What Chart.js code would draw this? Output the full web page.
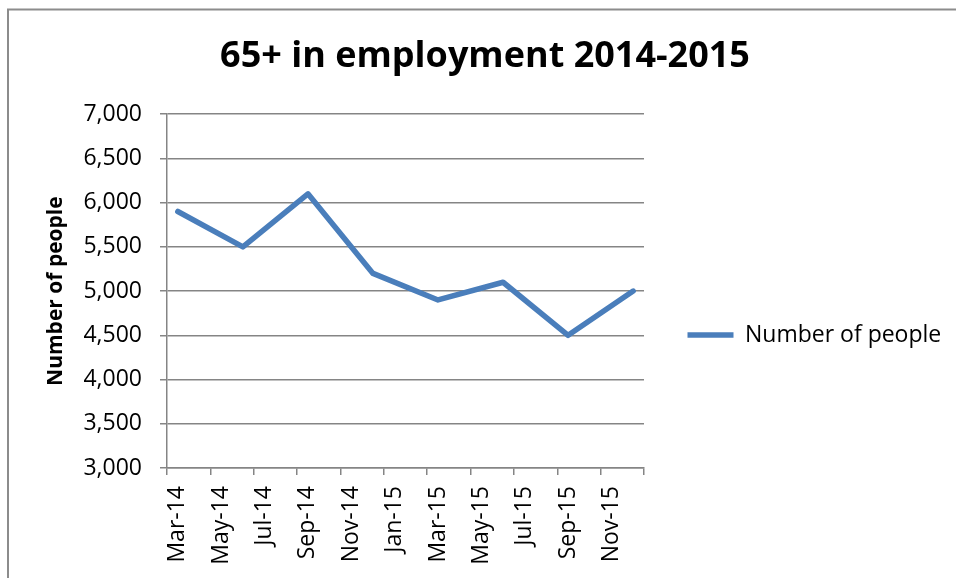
<!DOCTYPE html>
<html>
<head>
<meta charset="utf-8">
<title>65+ in employment 2014-2015</title>
<script src="https://cdn.jsdelivr.net/npm/chart.js@4/dist/chart.umd.min.js"></script>
<style>
  html, body { margin: 0; padding: 0; background: #ffffff; }
  canvas { display: block; }
</style>
</head>
<body>
<canvas id="chart" width="956" height="578"></canvas>
<script>
// Monthly slots of the date axis
const months = ['Mar-14', 'Apr-14', 'May-14', 'Jun-14', 'Jul-14', 'Aug-14', 'Sep-14', 'Oct-14',
  'Nov-14', 'Dec-14', 'Jan-15', 'Feb-15', 'Mar-15', 'Apr-15', 'May-15', 'Jun-15', 'Jul-15',
  'Aug-15', 'Sep-15', 'Oct-15', 'Nov-15', 'Dec-15'];

// Labels printed under the axis (every second month)
const tickLabels = ['Mar-14', 'May-14', 'Jul-14', 'Sep-14', 'Nov-14', 'Jan-15', 'Mar-15',
  'May-15', 'Jul-15', 'Sep-15', 'Nov-15'];

// Quarterly survey points
const surveyMonths = ['Mar-14', 'Jun-14', 'Sep-14', 'Dec-14', 'Mar-15', 'Jun-15', 'Sep-15', 'Dec-15'];
const peopleCounts = [5900, 5500, 6100, 5200, 4900, 5100, 4500, 5000];

const seriesName = 'Number of people';
const FONT = "'Open Sans', 'DejaVu Sans', sans-serif";
const GRID = '#858585';

// Grey frame around the chart
const framePlugin = {
  id: 'frame',
  beforeDraw(chart) {
    const ctx = chart.ctx;
    ctx.save();
    ctx.strokeStyle = '#8c8c8c';
    ctx.lineWidth = 2;
    ctx.beginPath();
    ctx.moveTo(8, chart.height);
    ctx.lineTo(8, 9.5);
    ctx.lineTo(chart.width, 9.5);
    ctx.stroke();
    ctx.restore();
  }
};

new Chart(document.getElementById('chart'), {
  type: 'line',
  data: {
    labels: months,
    datasets: [{
      label: seriesName,
      data: surveyMonths.map((m, i) => ({ x: m, y: peopleCounts[i] })),
      borderColor: '#4A7EBB',
      backgroundColor: '#4A7EBB',
      borderWidth: 5.5,
      borderCapStyle: 'round',
      borderJoinStyle: 'round',
      pointRadius: 0,
      pointHoverRadius: 0,
      tension: 0,
      fill: false
    }]
  },
  options: {
    responsive: false,
    animation: false,
    devicePixelRatio: 1,
    layout: { padding: { left: 26, right: 12, top: 0, bottom: 0 } },
    plugins: {
      title: {
        display: true,
        text: '65+ in employment 2014-2015',
        color: '#000000',
        font: { family: FONT, size: 36, weight: 'bold' },
        padding: { top: 35, bottom: 36 }
      },
      legend: {
        display: true,
        position: 'right',
        align: 'center',
        maxWidth: 300,
        title: { display: true, text: ' ', padding: { top: 0, bottom: 77.6 } },
        labels: {
          usePointStyle: true,
          pointStyle: 'line',
          pointStyleWidth: 46,
          color: '#000000',
          padding: 43.5,
          font: { family: FONT, size: 23 }
        }
      },
      tooltip: { enabled: false }
    },
    scales: {
      x: {
        type: 'category',
        offset: true,
        grid: {
          offset: true,
          drawOnChartArea: false,
          drawTicks: true,
          tickLength: 7,
          lineWidth: 1.5,
          tickColor: (ctx) => (ctx.index === undefined || ctx.index % 2 === 0) ? GRID : 'rgba(0,0,0,0)'
        },
        border: { display: true, color: GRID, width: 1.5 },
        ticks: {
          autoSkip: false,
          minRotation: 90,
          maxRotation: 90,
          padding: 11,
          color: '#000000',
          font: { family: FONT, size: 23 },
          callback: (value, index) => tickLabels.includes(months[index]) ? months[index] : ''
        },
        afterFit: (scale) => { scale.height = 110; }
      },
      y: {
        min: 3000,
        max: 7000,
        grid: { color: GRID, lineWidth: 1.5, tickLength: 7, drawTicks: true },
        border: { display: true, color: GRID, width: 1.5 },
        ticks: {
          stepSize: 500,
          padding: 18,
          color: '#000000',
          font: { family: FONT, size: 23 },
          callback: (v) => v.toLocaleString('en-US')
        },
        title: {
          display: true,
          text: seriesName,
          color: '#000000',
          font: { family: FONT, size: 21, weight: 'bold' },
          padding: { top: 17, bottom: 0 }
        },
        afterFit: (scale) => { scale.width = 141; }
      }
    }
  },
  plugins: [framePlugin]
});
</script>
</body>
</html>
